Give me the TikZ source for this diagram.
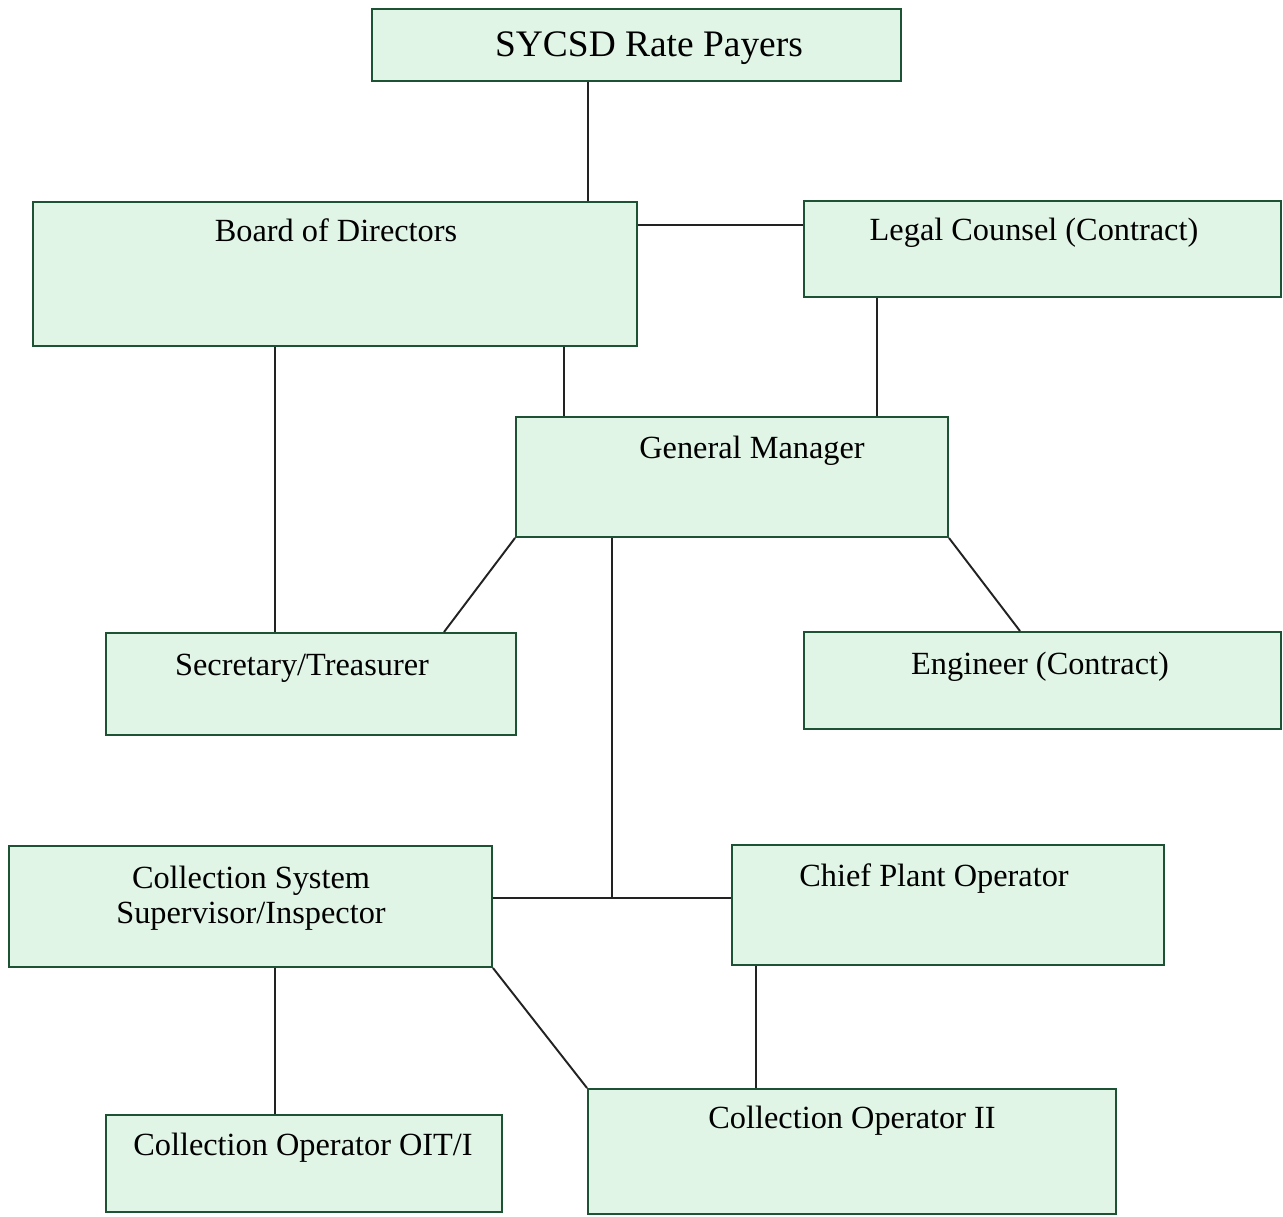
\documentclass[tikz,border=0pt]{standalone}
\usepackage{fontspec}
\setmainfont{Liberation Serif}
\usepackage{xcolor}
\usetikzlibrary{fit}
\usetikzlibrary{positioning}

\definecolor{boxfill}{HTML}{E1F5E6}
\definecolor{boxline}{HTML}{1E5234}
\definecolor{linkcol}{HTML}{222222}

\tikzset{
  unit/.style={draw=boxline, line width=1.1pt, fill=boxfill, inner sep=0pt},
  lbl/.style={anchor=base, inner sep=0pt, align=center,
    font=\fontsize{18.4pt}{19.9pt}\selectfont},
  link/.style={draw=linkcol, line width=1.1pt}
}

\begin{document}
\begin{tikzpicture}[x=0.02cm, y=-0.02cm]

\useasboundingbox (0,0) rectangle (1283,1216);

% boxes
\node (payers) [unit, fit={(372,9) (901,81)}] {};
\node (board)  [unit, fit={(33,202) (637,346)}] {};
\node (legal)  [unit, fit={(804,201) (1281,297)}] {};
\node (gm)     [unit, fit={(516,417) (948,537)}] {};
\node (sec)    [unit, fit={(106,633) (516,735)}] {};
\node (eng)    [unit, fit={(804,632) (1281,729)}] {};
\node (css)    [unit, fit={(9,846) (492,967)}] {};
\node (chief)  [unit, fit={(732,845) (1164,965)}] {};
\node (oit)    [unit, fit={(106,1115) (502,1212)}] {};
\node (opii)   [unit, fit={(588,1089) (1116,1214)}] {};

% texts
\node (payers-t) [lbl, font=\fontsize{21.3pt}{24pt}\selectfont] at (649,57) {SYCSD Rate Payers};
\node (board-t) [lbl] at (336,242) {Board of Directors};
\node (legal-t) [lbl] at (1034,241) {Legal Counsel (Contract)};
\node (gm-t)    [lbl] at (752,458) {General Manager};
\node (sec-t)   [lbl] at (302,675) {Secretary/Treasurer};
\node (eng-t)   [lbl] at (1040,674) {Engineer (Contract)};
\node (css-t)   [lbl] at (251,923) {Collection System\\Supervisor/Inspector};
\node (chief-t) [lbl] at (934,886) {Chief Plant Operator};
\node (oit-t)   [lbl] at (303,1155) {Collection Operator OIT/I};
\node (opii-t)  [lbl] at (852,1128) {Collection Operator II};

% connectors
\coordinate (junc) at (612,898);

\draw [link] (payers.south -| 588,0) -- (board.north -| 588,0);
\draw [link] (board.east |- 0,225) -- (legal.west |- 0,225);
\draw [link] (board.south -| 275,0) -- (sec.north -| 275,0);
\draw [link] (board.south -| 564,0) -- (gm.north -| 564,0);
\draw [link] (legal.south -| 877,0) -- (gm.north -| 877,0);
\draw [link] (gm.south west) -- (sec.north -| 444,0);
\draw [link] (gm.south east) -- (eng.north -| 1020,0);
\draw [link] (gm.south -| junc) -- (junc);
\draw [link] (css.east |- junc) -- (chief.west |- junc);
\draw [link] (css.south -| 275,0) -- (oit.north -| 275,0);
\draw [link] (css.south east) -- (opii.north west);
\draw [link] (chief.south -| 756,0) -- (opii.north -| 756,0);

\end{tikzpicture}
\end{document}
